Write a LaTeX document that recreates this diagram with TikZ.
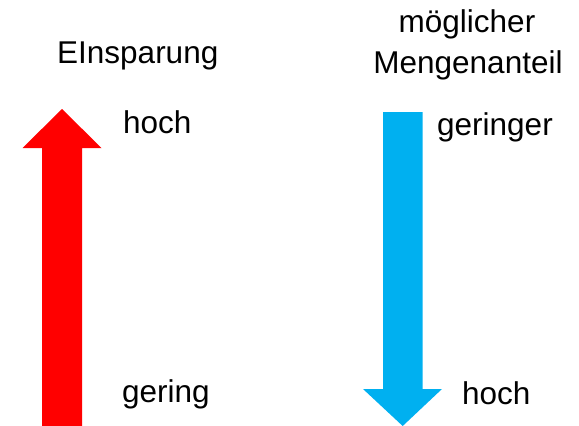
\documentclass[tikz,border=0pt]{standalone}
\usepackage{fontspec}
\setmainfont{Liberation Sans}
\definecolor{uparrow}{HTML}{FF0000}
\definecolor{downarrow}{HTML}{00B0F0}
\begin{document}
\begin{tikzpicture}[x=1pt,y=-1pt,
  lbl/.style={anchor=base west,inner sep=0pt,font=\fontsize{31.5}{36}\selectfont},
  ctr/.style={anchor=base,inner sep=0pt,font=\fontsize{31.5}{36}\selectfont}]
\useasboundingbox (0,0) rectangle (579,426);
% savings arrow, pointing up
\fill[uparrow] (62,109) -- (101.5,148) -- (82,148) -- (82,426) -- (42,426) -- (42,148) -- (22.5,148) -- cycle;
% share arrow, pointing down
\fill[downarrow] (383,112) -- (422.5,112) -- (422.5,389) -- (442,389) -- (402.7,426) -- (363,389) -- (383,389) -- cycle;
\node[lbl] (t1) at (57,63) {EInsparung};
\node[ctr] (t2) at (467,32) {möglicher};
\node[ctr] (t3) at (468,73) {Mengenanteil};
\node[lbl] (l1) at (123,133) {hoch};
\node[lbl] (l2) at (122,402) {gering};
\node[lbl] (r1) at (437,135) {geringer};
\node[lbl] (r2) at (462,404) {hoch};
\end{tikzpicture}
\end{document}
